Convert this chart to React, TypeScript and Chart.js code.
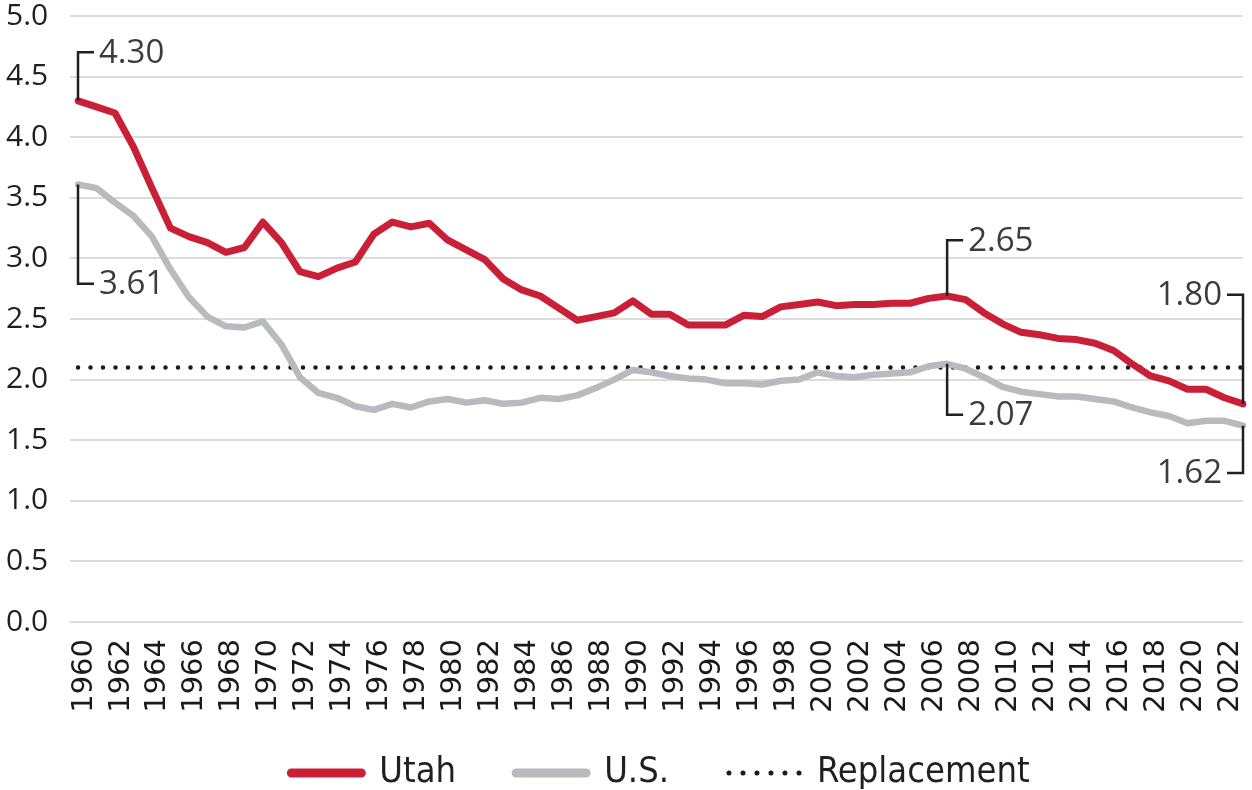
import React, { useEffect, useRef } from 'react';
import { Chart, registerables } from 'chart.js';

Chart.register(...registerables);

// ---- Data ----
const years = [
  '1960','1961','1962','1963','1964','1965','1966','1967','1968','1969',
  '1970','1971','1972','1973','1974','1975','1976','1977','1978','1979',
  '1980','1981','1982','1983','1984','1985','1986','1987','1988','1989',
  '1990','1991','1992','1993','1994','1995','1996','1997','1998','1999',
  '2000','2001','2002','2003','2004','2005','2006','2007','2008','2009',
  '2010','2011','2012','2013','2014','2015','2016','2017','2018','2019',
  '2020','2021','2022','2023',
];

const utahTfr = [
  4.30, 4.25, 4.20, 3.92, 3.58, 3.25, 3.18, 3.13, 3.05, 3.09,
  3.30, 3.13, 2.89, 2.85, 2.92, 2.97, 3.20, 3.30, 3.26, 3.29,
  3.15, 3.07, 2.99, 2.83, 2.74, 2.69, 2.59, 2.49, 2.52, 2.55,
  2.65, 2.54, 2.54, 2.45, 2.45, 2.45, 2.53, 2.52, 2.60, 2.62,
  2.64, 2.61, 2.62, 2.62, 2.63, 2.63, 2.67, 2.69, 2.66, 2.55,
  2.46, 2.39, 2.37, 2.34, 2.33, 2.30, 2.24, 2.13, 2.03, 1.99,
  1.92, 1.92, 1.85, 1.80,
];

const usTfr = [
  3.61, 3.58, 3.46, 3.35, 3.18, 2.91, 2.68, 2.52, 2.44, 2.43,
  2.48, 2.29, 2.02, 1.89, 1.85, 1.78, 1.75, 1.80, 1.77, 1.82,
  1.84, 1.81, 1.83, 1.80, 1.81, 1.85, 1.84, 1.87, 1.93, 2.00,
  2.08, 2.06, 2.03, 2.01, 2.00, 1.97, 1.97, 1.96, 1.99, 2.00,
  2.06, 2.03, 2.02, 2.04, 2.05, 2.06, 2.11, 2.13, 2.09, 2.02,
  1.94, 1.90, 1.88, 1.86, 1.86, 1.84, 1.82, 1.77, 1.73, 1.70,
  1.64, 1.66, 1.66, 1.62,
];

const REPLACEMENT = 2.1;

const seriesLabels = ['Utah', 'U.S.', 'Replacement'];

// callouts: series index, year, label text, value where the bracket arm ends, side (+1 right, -1 left)
const callouts = [
  { series: 0, year: '1960', text: '4.30', to: 4.70, side: 1 },
  { series: 1, year: '1960', text: '3.61', to: 2.79, side: 1 },
  { series: 0, year: '2007', text: '2.65', to: 3.15, side: 1 },
  { series: 1, year: '2007', text: '2.07', to: 1.71, side: 1 },
  { series: 0, year: '2023', text: '1.80', to: 2.70, side: -1 },
  { series: 1, year: '2023', text: '1.62', to: 1.23, side: -1 },
];

// ---- Styles ----
const RED = '#c91f37';
const GRAY = '#b9babe';
const DOT = '#1a1a1a';
const GRID = '#dcdcdc';
const TEXT = '#231f20';
const NARROW = "'Liberation Sans Narrow', 'DejaVu Sans Condensed', sans-serif";

const calloutPlugin = {
  id: 'callouts',
  afterDatasetsDraw(chart: any) {
    const ctx = chart.ctx;
    const ys = chart.scales.y;
    ctx.save();
    ctx.strokeStyle = '#231f20';
    ctx.lineWidth = 2.5;
    ctx.lineCap = 'butt';
    ctx.lineJoin = 'miter';
    ctx.font = "33px 'Open Sans'";
    ctx.fillStyle = '#3c3c3c';
    ctx.textBaseline = 'middle';
    callouts.forEach((c) => {
      const idx = years.indexOf(c.year);
      const pt = chart.getDatasetMeta(c.series).data[idx];
      const x = pt.x;
      const y0 = pt.y;
      const y1 = ys.getPixelForValue(c.to);
      ctx.beginPath();
      ctx.moveTo(x, y0);
      ctx.lineTo(x, y1);
      ctx.lineTo(x + c.side * 16, y1);
      ctx.stroke();
      ctx.textAlign = c.side > 0 ? 'left' : 'right';
      ctx.fillText(c.text, x + c.side * 21, y1 + 1);
    });
    ctx.restore();
  },
};

// lift the legend's top so its row sits in the lower band while keeping wide item spacing
const legendLift = {
  id: 'legendLift',
  afterLayout(chart: any) {
    const lg = chart.legend;
    if (lg) {
      lg.top -= 18;
    }
  },
};

const legendLineWidths = [9, 9, 5];

export default function App() {
  const canvasRef = useRef<HTMLCanvasElement | null>(null);

  useEffect(() => {
    if (!canvasRef.current) return;
    const chart = new Chart(canvasRef.current, {
      type: 'line',
      data: {
        labels: years,
        datasets: [
          {
            label: seriesLabels[0],
            data: utahTfr,
            borderColor: RED,
            backgroundColor: RED,
            borderWidth: 7,
            pointRadius: 0,
            tension: 0,
            borderJoinStyle: 'round',
            borderCapStyle: 'round',
          },
          {
            label: seriesLabels[1],
            data: usTfr,
            borderColor: GRAY,
            backgroundColor: GRAY,
            borderWidth: 6.5,
            pointRadius: 0,
            tension: 0,
            borderJoinStyle: 'round',
            borderCapStyle: 'round',
          },
          {
            label: seriesLabels[2],
            data: [
              { x: years[0], y: REPLACEMENT },
              { x: years[years.length - 1], y: REPLACEMENT },
            ] as any,
            borderColor: DOT,
            backgroundColor: DOT,
            borderWidth: 4.5,
            borderDash: [0, 12.5],
            borderCapStyle: 'round',
            pointRadius: 0,
          },
        ],
      },
      options: {
        responsive: false,
        animation: false,
        events: [],
        layout: { padding: { left: 6, right: 9, top: 0, bottom: 0 } },
        scales: {
          x: {
            type: 'category',
            offset: false,
            grid: { display: false, drawTicks: false },
            border: { display: false },
            ticks: {
              autoSkip: false,
              minRotation: 90,
              maxRotation: 90,
              padding: 17,
              labelOffset: 6,
              color: '#1a1a1a',
              font: { family: "'DejaVu Sans'", size: 29 },
              callback: (_v: any, i: number) => (Number(years[i]) % 2 === 0 ? years[i] : null),
            },
            afterFit: (s: any) => {
              s.height = 91;
              s.paddingLeft = 0;
              s.paddingRight = 0;
            },
          },
          y: {
            min: 0,
            max: 5,
            grid: { color: GRID, lineWidth: 2, tickLength: 8, tickColor: GRID, drawTicks: true },
            border: { display: false },
            ticks: {
              stepSize: 0.5,
              padding: 0,
              crossAlign: 'far',
              color: TEXT,
              font: { family: "'Open Sans'", size: 30 },
              callback: (v: any) => Number(v).toFixed(1),
            },
            afterFit: (s: any) => {
              s.width = 72;
              s.paddingTop = 16;
              s.paddingBottom = 0;
            },
          },
        },
        plugins: {
          tooltip: { enabled: false },
          legend: {
            position: 'bottom',
            fullSize: false,
            maxHeight: 77,
            labels: {
              boxWidth: 70,
              boxHeight: 0,
              padding: 60,
              color: TEXT,
              font: { family: NARROW, size: 36 },
              generateLabels: (ch: any) =>
                ch.data.datasets.map((ds: any, i: number) => ({
                  text: ds.label,
                  fillStyle: 'rgba(0,0,0,0)',
                  strokeStyle: ds.borderColor,
                  lineWidth: legendLineWidths[i],
                  lineCap: 'round',
                  lineJoin: 'round',
                  lineDash: i === 2 ? [0, 14] : [],
                  hidden: false,
                  datasetIndex: i,
                  fontColor: TEXT,
                })),
            },
          },
        },
      },
      plugins: [calloutPlugin, legendLift],
    } as any);
    return () => chart.destroy();
  }, []);

  return (
    <div style={{ position: 'fixed', left: 0, top: 0, width: 1252, height: 790, background: '#fff' }}>
      <canvas ref={canvasRef} width={1252} height={790} style={{ display: 'block' }} />
    </div>
  );
}
